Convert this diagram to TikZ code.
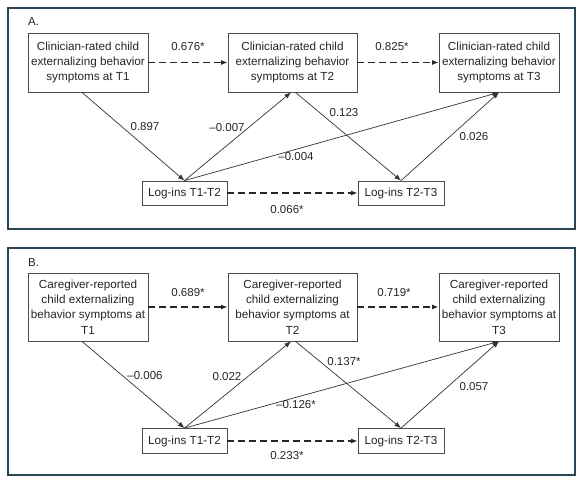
\documentclass[tikz,border=0pt]{standalone}
\usepackage{fontspec}
\setmainfont{Liberation Sans}
\usetikzlibrary{arrows.meta}
\definecolor{framecol}{HTML}{2B4454}
\begin{document}
\begin{tikzpicture}[x=1pt,y=-1pt,
  box/.style={draw=black!70, line width=0.8pt, align=center, inner sep=0pt, font=\fontsize{11.7}{15.3}\selectfont, text=black!85},
  lab/.style={font=\fontsize{11.5}{14}\selectfont, inner sep=0pt, text=black!85},
  solidarr/.style={draw=black!80, line width=0.7pt, -{Latex[length=6.5pt,width=5pt]}},
  dasharr/.style={draw=black!85, line width=1.4pt, dash pattern=on 6.5pt off 4.5pt, -{Latex[length=6.5pt,width=5pt]}},
  panel/.style={draw=framecol, line width=1.6pt}]
\useasboundingbox (0,0) rectangle (587,481);
\fill[white] (0,0) rectangle (587,481);
% ---------------- Panel A ----------------
\draw[panel] (8,8) rectangle (575,229);
\node[lab, anchor=west] (tA) at (28,22) {A.};
\node[box, minimum width=120pt, minimum height=59pt] (A1) at (88,62.5) {Clinician-rated child\\externalizing behavior\\symptoms at T1};
\node[box, minimum width=129pt, minimum height=59pt] (A2) at (292.5,62.5) {Clinician-rated child\\externalizing behavior\\symptoms at T2};
\node[box, minimum width=120pt, minimum height=59pt] (A3) at (499,62.5) {Clinician-rated child\\externalizing behavior\\symptoms at T3};
\node[box, minimum width=85pt, minimum height=24pt] (LA1) at (184.5,193) {Log-ins T1-T2};
\node[box, minimum width=86pt, minimum height=24pt] (LA2) at (401,193) {Log-ins T2-T3};
\draw[dasharr] (A1) -- (A2);
\draw[dasharr] (A2) -- (A3);
\draw[dasharr] (LA1) -- (LA2);
\draw[solidarr] ([xshift=-6pt]A1.south) -- (LA1.north);
\draw[solidarr] (LA1.north) -- ([xshift=-1.5pt]A2.south);
\draw[solidarr] (LA1.north) -- (A3.south);
\draw[solidarr] ([xshift=3pt]A2.south) -- (LA2.north);
\draw[solidarr] (LA2.north) -- (A3.south);
\node[lab] (a1) at (188,47) {0.676*};
\node[lab] (a2) at (392,47) {0.825*};
\node[lab] (a3) at (145,127) {0.897};
\node[lab] (a4) at (227,128) {\textendash0.007};
\node[lab] (a5) at (296,157) {\textendash0.004};
\node[lab] (a6) at (344,113) {0.123};
\node[lab] (a7) at (474,137) {0.026};
\node[lab] (a8) at (287,210) {0.066*};
% ---------------- Panel B ----------------
\draw[panel] (8,248) rectangle (575,475);
\node[lab, anchor=west] (tB) at (28,263) {B.};
\node[box, minimum width=120pt, minimum height=68pt] (B1) at (88,307) {Caregiver-reported\\child externalizing\\behavior symptoms at\\T1};
\node[box, minimum width=129pt, minimum height=68pt] (B2) at (292.5,307) {Caregiver-reported\\child externalizing\\behavior symptoms at\\T2};
\node[box, minimum width=120pt, minimum height=68pt] (B3) at (499,307) {Caregiver-reported\\child externalizing\\behavior symptoms at\\T3};
\node[box, minimum width=85pt, minimum height=25pt] (LB1) at (184.5,441) {Log-ins T1-T2};
\node[box, minimum width=86pt, minimum height=25pt] (LB2) at (401,441) {Log-ins T2-T3};
\draw[dasharr] (B1) -- (B2);
\draw[dasharr] (B2) -- (B3);
\draw[dasharr] (LB1) -- (LB2);
\draw[solidarr] ([xshift=-6pt]B1.south) -- (LB1.north);
\draw[solidarr] (LB1.north) -- ([xshift=-1.5pt]B2.south);
\draw[solidarr] (LB1.north) -- (B3.south);
\draw[solidarr] ([xshift=3pt]B2.south) -- (LB2.north);
\draw[solidarr] (LB2.north) -- (B3.south);
\node[lab] (b1) at (188,293) {0.689*};
\node[lab] (b2) at (394,293) {0.719*};
\node[lab] (b3) at (145,376) {\textendash0.006};
\node[lab] (b4) at (227,377) {0.022};
\node[lab] (b5) at (296,405) {\textendash0.126*};
\node[lab] (b6) at (344,362) {0.137*};
\node[lab] (b7) at (474,387) {0.057};
\node[lab] (b8) at (287,456) {0.233*};
\end{tikzpicture}
\end{document}
